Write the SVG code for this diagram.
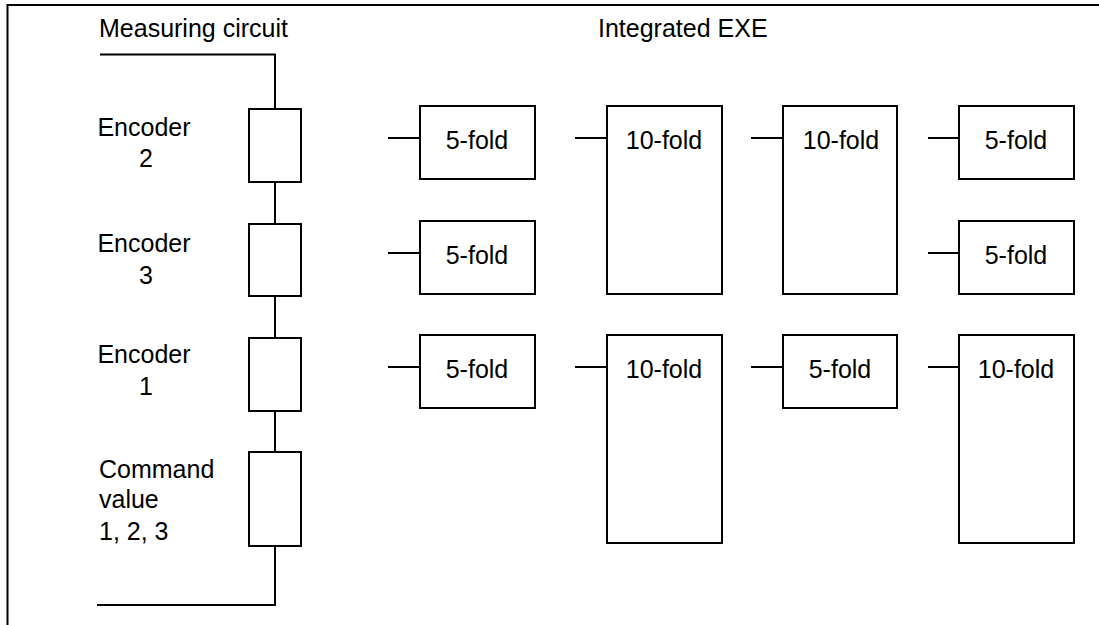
<svg xmlns="http://www.w3.org/2000/svg" width="1099" height="625" viewBox="0 0 1099 625">
<style>
.b{fill:#fff;stroke:#000;stroke-width:2}
.l{fill:none;stroke:#000;stroke-width:2}
text{font-family:"Liberation Sans",Arial,sans-serif;font-size:25px;fill:#000}
.c{text-anchor:middle}
</style>
<rect width="1099" height="625" fill="#fff"/>
<g id="frame"><path class="l" d="M7.5,625 V5 H1099"/></g>
<g id="titles">
<text x="99" y="37">Measuring circuit</text>
<text x="598" y="37">Integrated EXE</text>
</g>
<g id="connectors">
<path class="l" d="M100,54.5 H275 V109"/>
<path class="l" d="M275,182 V224"/>
<path class="l" d="M275,296 V338"/>
<path class="l" d="M275,411 V452"/>
<path class="l" d="M275,546 V605 H97"/>
<path class="l" d="M388,138 H420 M575,138 H607 M751,138 H783 M928,138 H959"/>
<path class="l" d="M388,253 H420 M928,253 H959"/>
<path class="l" d="M388,367 H420 M575,367 H607 M751,367 H783 M928,367 H959"/>
</g>
<g id="enc2"><rect class="b" x="249" y="109" width="52" height="73"/><text class="c" x="144" y="136">Encoder</text><text class="c" x="146" y="167">2</text></g>
<g id="enc3"><rect class="b" x="249" y="224" width="52" height="72"/><text class="c" x="144" y="252">Encoder</text><text class="c" x="146" y="284">3</text></g>
<g id="enc1"><rect class="b" x="249" y="338" width="52" height="73"/><text class="c" x="144" y="363">Encoder</text><text class="c" x="146" y="395">1</text></g>
<g id="cmd"><rect class="b" x="249" y="452" width="52" height="94"/><text x="99" y="478">Command</text><text x="99" y="508">value</text><text x="99" y="540">1, 2, 3</text></g>
<g id="r1c1"><rect class="b" x="420" y="106" width="115" height="73"/><text class="c" x="477" y="149">5-fold</text></g>
<g id="r1c2"><rect class="b" x="607" y="106" width="115" height="188"/><text class="c" x="664" y="149">10-fold</text></g>
<g id="r1c3"><rect class="b" x="783" y="106" width="114" height="188"/><text class="c" x="841" y="149">10-fold</text></g>
<g id="r1c4"><rect class="b" x="959" y="106" width="115" height="73"/><text class="c" x="1016" y="149">5-fold</text></g>
<g id="r2c1"><rect class="b" x="420" y="221" width="115" height="73"/><text class="c" x="477" y="264">5-fold</text></g>
<g id="r2c4"><rect class="b" x="959" y="221" width="115" height="73"/><text class="c" x="1016" y="264">5-fold</text></g>
<g id="r3c1"><rect class="b" x="420" y="335" width="115" height="73"/><text class="c" x="477" y="378">5-fold</text></g>
<g id="r3c2"><rect class="b" x="607" y="335" width="115" height="208"/><text class="c" x="664" y="378">10-fold</text></g>
<g id="r3c3"><rect class="b" x="783" y="335" width="114" height="73"/><text class="c" x="840" y="378">5-fold</text></g>
<g id="r3c4"><rect class="b" x="959" y="335" width="115" height="208"/><text class="c" x="1016" y="378">10-fold</text></g>
</svg>
